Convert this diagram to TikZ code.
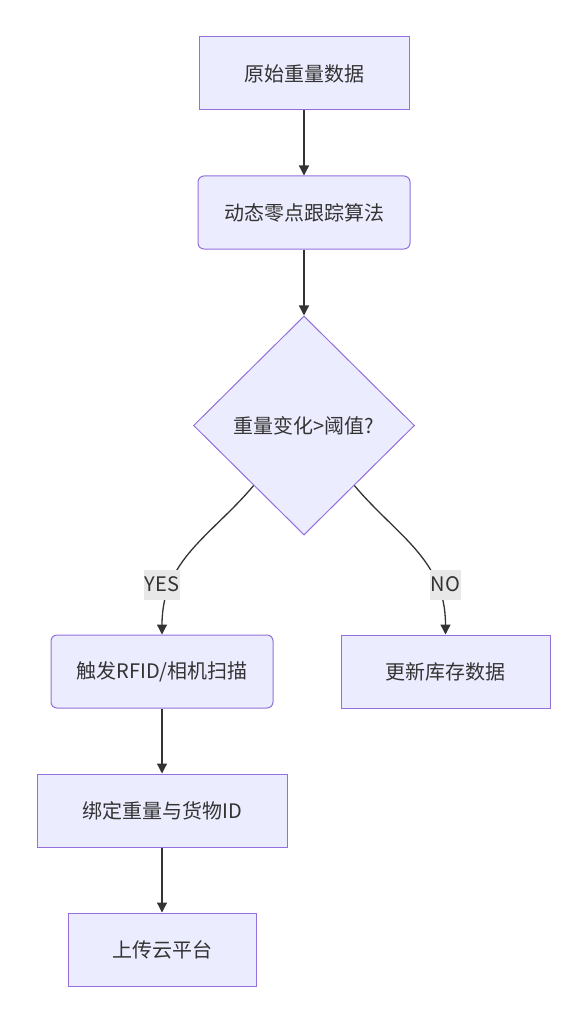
\documentclass[tikz,border=0pt]{standalone}
\usepackage{fontspec}
\newfontfamily\cjk{Noto Sans CJK SC}
\usetikzlibrary{arrows.meta,shapes.geometric}
\definecolor{boxfill}{HTML}{ECECFF}
\definecolor{boxline}{HTML}{9370DB}
\definecolor{ink}{HTML}{333333}
\definecolor{lblbg}{HTML}{E8E8E8}
\begin{document}
\begin{tikzpicture}[x=1pt, y=-1pt,
		every node/.style={font=\cjk\fontsize{20}{24}\selectfont, text=ink},
		proc/.style={draw=boxline, fill=boxfill, line width=1pt, minimum height=73pt, inner sep=0pt},
		rproc/.style={proc, rounded corners=6pt},
		dec/.style={draw=boxline, fill=boxfill, line width=1pt, diamond, minimum width=221pt, minimum height=219pt, inner sep=0pt},
		lbl/.style={fill=lblbg, inner sep=1pt, minimum height=30pt},
		arr/.style={draw=ink, line width=1.3pt, -{Triangle[length=10pt,width=10pt]}}]
	\useasboundingbox (0,0) rectangle (587,1024);

	\node[proc, minimum width=210pt] (raw) at (304,73.5) {原始重量数据};
	\node[rproc, minimum width=212pt] (zero) at (304,212.5) {动态零点跟踪算法};
	\node[dec] (chg) at (304,425.5) {重量变化>阈值?};
	\node[rproc, minimum width=222pt] (scan) at (162,671.5) {触发RFID/相机扫描};
	\node[proc, minimum width=209pt] (stock) at (445.5,671.5) {更新库存数据};
	\node[proc, minimum width=250pt] (bind) at (162,810.5) {绑定重量与货物ID};
	\node[proc, minimum width=188pt] (cloud) at (162,949.5) {上传云平台};

	\draw[arr] (raw) -- (zero);
	\draw[arr] (zero) -- (chg);
	\draw[arr] (chg.230) .. controls +(-42,50) and +(0,-75) .. (scan.north);
	\draw[arr] (chg.310) .. controls +(42,50) and +(0,-75) .. (stock.north);
	\draw[arr] (scan) -- (bind);
	\draw[arr] (bind) -- (cloud);

	\path (scan.north) ++(0,-50) node[lbl] (yes) {YES};
	\path (stock.north) ++(0,-50) node[lbl] (no) {NO};
\end{tikzpicture}
\end{document}
